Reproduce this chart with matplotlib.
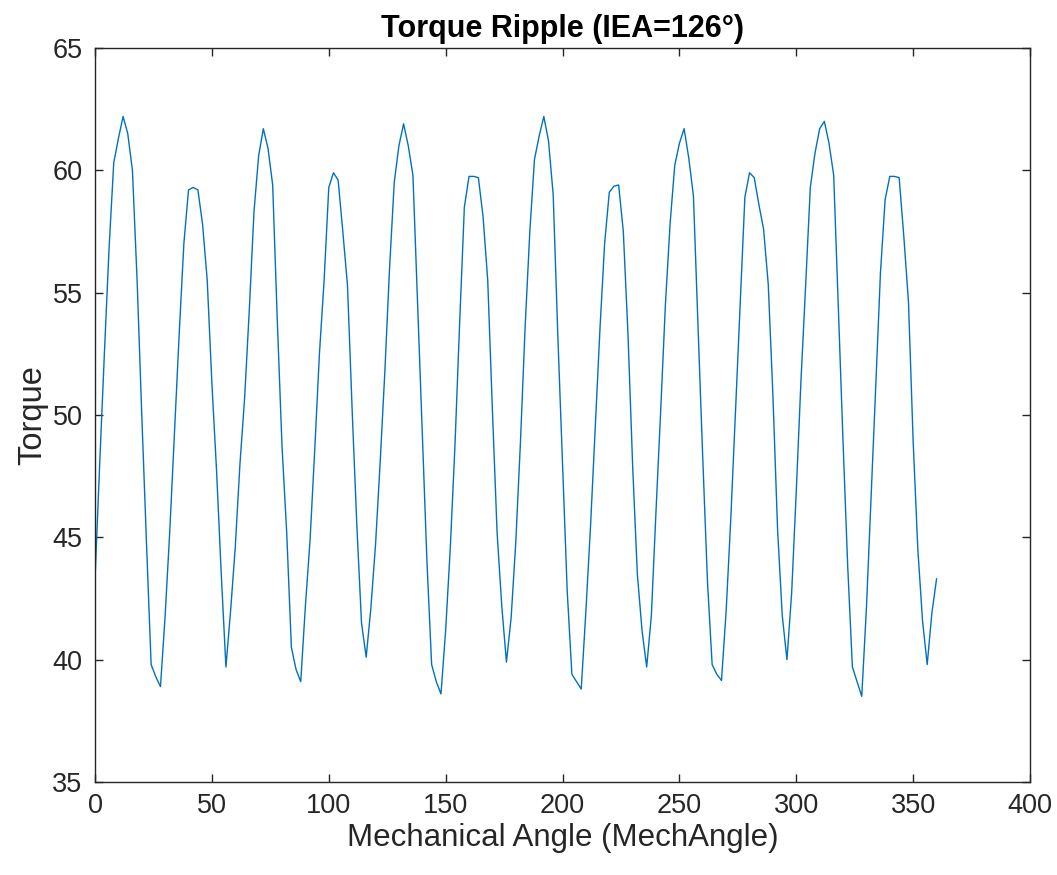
import matplotlib
matplotlib.use("Agg")
import matplotlib.pyplot as plt

# Mechanical angle in degrees (2 degree steps)
mech_angle = list(range(0, 362, 2))

# Torque
torque_first_half = [
    43.3, 48.0, 52.5, 56.8, 60.3, 61.3, 62.2, 61.5, 60.0, 55.5,   # 0-18
    50.0, 44.8, 39.8, 39.3, 38.9, 41.8, 45.3, 49.3, 53.3, 57.0,   # 20-38
    59.2, 59.3, 59.2, 57.8, 55.5, 51.3, 47.7, 43.5, 39.7, 42.0,   # 40-58
    44.6, 48.0, 50.7, 54.3, 58.3, 60.6, 61.7, 60.9, 59.4, 53.8,   # 60-78
    48.7, 45.2, 40.5, 39.6, 39.1, 42.2, 44.9, 48.6, 52.5, 55.5,   # 80-98
    59.3, 59.9, 59.6, 57.5, 55.3, 50.2, 45.5, 41.5, 40.1, 42.1,   # 100-118
    44.7, 48.1, 51.8, 56.0, 59.5, 61.0, 61.9, 61.0, 59.8, 54.5,   # 120-138
    49.1, 44.0, 39.8, 39.1, 38.6, 41.2, 44.6, 48.8, 53.8, 58.5,   # 140-158
    59.75, 59.75, 59.7, 58.1, 55.5, 50.2, 45.2, 42.2, 39.9, 41.7, # 160-178
]
torque_second_half = [
    44.8, 48.9, 53.6, 57.5, 60.45, 61.4, 62.2, 61.2, 59.0, 53.2,  # 180-198
    48.0, 42.8, 39.4, 39.1, 38.8, 42.0, 45.5, 49.5, 53.5, 57.0,   # 200-218
    59.1, 59.35, 59.4, 57.5, 53.3, 47.9, 43.5, 41.2, 39.7, 41.8,  # 220-238
    46.1, 50.2, 54.5, 57.8, 60.2, 61.1, 61.7, 60.5, 58.95, 53.5,  # 240-258
    48.2, 43.2, 39.8, 39.4, 39.15, 42.0, 45.8, 50.2, 54.7, 58.9,  # 260-278
    59.9, 59.7, 58.6, 57.6, 55.35, 50.8, 45.3, 41.8, 40.0, 42.7,  # 280-298
    46.9, 51.4, 55.3, 59.3, 60.7, 61.7, 62.0, 61.1, 59.8, 54.4,   # 300-318
    48.9, 43.8, 39.7, 39.1, 38.5, 42.1, 46.6, 51.2, 55.8, 58.8,   # 320-338
    59.75, 59.75, 59.7, 57.3, 54.6, 48.9, 44.5, 41.6, 39.8, 41.9, # 340-358
    43.3,                                                         # 360
]
torque = torque_first_half + torque_second_half

x_ticks = [0, 50, 100, 150, 200, 250, 300, 350, 400]
y_ticks = [35, 40, 45, 50, 55, 60, 65]

plt.rcParams['font.family'] = ['Liberation Sans', 'DejaVu Sans']
axis_gray = '#262626'

fig = plt.figure(figsize=(10.57, 8.75), dpi=100)
ax = fig.add_axes([0.0899, 0.1063, 0.8846, 0.8389])

ax.plot(mech_angle, torque, color='#0072BD', linewidth=1.0)

ax.set_xlim(0, 400)
ax.set_ylim(35, 65)
ax.set_xticks(x_ticks)
ax.set_yticks(y_ticks)
ax.tick_params(direction='in', top=True, right=True, length=6, width=1.0,
               labelsize=19.5, colors=axis_gray)
ax.tick_params(axis='x', pad=8)
ax.tick_params(axis='y', pad=9)
for spine in ax.spines.values():
    spine.set_color(axis_gray)
    spine.set_linewidth(1.0)

ax.set_title('Torque Ripple (IEA=126°)', fontsize=22, fontweight='bold', pad=8)
ax.set_xlabel('Mechanical Angle (MechAngle)', fontsize=22.5, color=axis_gray, labelpad=3)
ax.set_ylabel('Torque', fontsize=23.5, color=axis_gray, labelpad=3)

fig.savefig('out.png', dpi=100)
